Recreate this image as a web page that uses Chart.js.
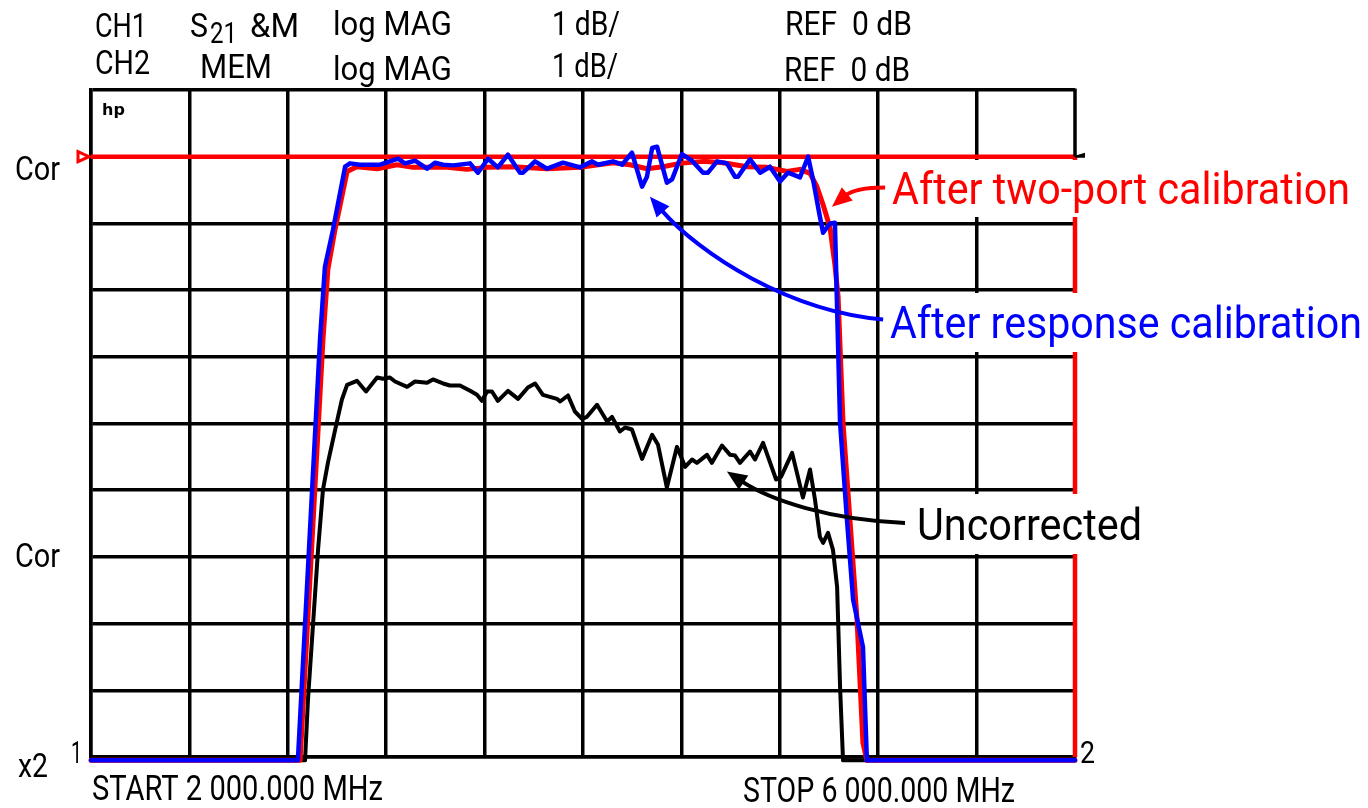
<!DOCTYPE html>
<html>
<head>
<meta charset="utf-8">
<script src="https://cdn.jsdelivr.net/npm/chart.js@4.4.1/dist/chart.umd.min.js"></script>
<style>
html,body{margin:0;padding:0;background:#fff;}
canvas{display:block;}
</style>
</head>
<body>
<canvas id="c" width="1368" height="808"></canvas>
<script>
// ---- data (frequency in MHz, magnitude in dB) ----
const startFreq = 2000;
const stopFreq = 6000;
const freqStep = 400;
const refLevel = 0;
const dbPerDiv = 1;

const refFreq = [2000, 6000];
const refDb = [0, 0];

const respFreq = [2000, 2841, 2931, 2951, 2984, 3033, 3053, 3093, 3134, 3175, 3215, 3248, 3276, 3317, 3366, 3398, 3431, 3472, 3541, 3573, 3614, 3654, 3695, 3744, 3756, 3805, 3854, 3919, 3988, 4037, 4061, 4122, 4159, 4199, 4240, 4260, 4281, 4301, 4341, 4362, 4402, 4443, 4488, 4508, 4545, 4585, 4618, 4630, 4679, 4720, 4760, 4801, 4833, 4854, 4882, 4915, 4935, 4963, 4976, 5004, 5024, 5045, 5073, 5098, 5138, 5154, 6000];
const respDb = [-9.05, -9.05, -2.74, -1.65, -1.09, -0.15, -0.10, -0.12, -0.12, -0.12, -0.07, -0.03, -0.10, -0.06, -0.18, -0.09, -0.12, -0.13, -0.10, -0.24, -0.03, -0.16, 0.03, -0.24, -0.24, -0.07, -0.18, -0.09, -0.16, -0.07, -0.12, -0.07, -0.12, 0.06, -0.45, -0.30, 0.13, 0.15, -0.39, -0.34, 0.04, -0.06, -0.24, -0.24, -0.07, -0.10, -0.30, -0.30, -0.04, -0.24, -0.15, -0.37, -0.24, -0.27, -0.31, 0.00, -0.34, -0.90, -1.14, -1.00, -0.99, -3.99, -5.44, -6.64, -7.35, -9.05, -9.05];

const twoPortFreq = [2000, 2850, 2943, 2963, 2992, 3041, 3081, 3163, 3244, 3309, 3447, 3528, 3610, 3715, 3854, 3988, 4122, 4191, 4260, 4325, 4394, 4488, 4569, 4667, 4748, 4829, 4882, 4923, 4951, 4976, 5004, 5024, 5037, 5057, 5085, 5114, 5138, 5154, 6000];
const twoPortDb = [-9.05, -9.05, -2.74, -1.69, -1.09, -0.22, -0.15, -0.18, -0.12, -0.16, -0.16, -0.19, -0.16, -0.15, -0.18, -0.16, -0.09, -0.12, -0.18, -0.15, -0.10, -0.07, -0.09, -0.15, -0.16, -0.22, -0.19, -0.25, -0.45, -0.72, -1.06, -1.62, -2.10, -3.99, -5.44, -6.94, -8.79, -9.05, -9.05];

const uncorrFreq = [2000, 2870, 2882, 2923, 2943, 2963, 3004, 3020, 3041, 3081, 3118, 3163, 3187, 3215, 3236, 3285, 3317, 3366, 3390, 3431, 3459, 3500, 3541, 3569, 3589, 3610, 3630, 3654, 3695, 3736, 3776, 3805, 3837, 3894, 3907, 3939, 3967, 3996, 4016, 4057, 4098, 4118, 4150, 4171, 4199, 4240, 4281, 4305, 4341, 4382, 4415, 4443, 4463, 4504, 4524, 4565, 4598, 4618, 4638, 4679, 4699, 4732, 4785, 4805, 4850, 4894, 4923, 4943, 4963, 4976, 4996, 5016, 5033, 5045, 5057, 6000];
const uncorrDb = [-9.05, -9.05, -8.14, -5.89, -4.99, -4.59, -3.90, -3.64, -3.42, -3.36, -3.52, -3.31, -3.33, -3.31, -3.37, -3.45, -3.37, -3.39, -3.34, -3.40, -3.43, -3.43, -3.51, -3.57, -3.66, -3.52, -3.52, -3.66, -3.51, -3.63, -3.46, -3.40, -3.57, -3.63, -3.67, -3.58, -3.82, -3.93, -3.90, -3.72, -3.97, -3.90, -4.12, -4.06, -4.09, -4.53, -4.17, -4.32, -4.96, -4.35, -4.65, -4.54, -4.59, -4.47, -4.59, -4.33, -4.47, -4.48, -4.59, -4.42, -4.54, -4.29, -4.84, -4.80, -4.44, -5.11, -4.69, -5.14, -5.70, -5.79, -5.64, -5.89, -6.45, -7.95, -9.05, -9.05];

const seriesNames = ["After response calibration", "After two-port calibration", "Uncorrected"];

// ---- helpers ----
const zip = (xs, ys) => xs.map((x, i) => ({x: x, y: ys[i]}));
const FONT = 'Roboto, "Liberation Sans", sans-serif';

function fitText(ctx, text, x, baseline, width, size, color) {
  ctx.save();
  ctx.font = size + 'px ' + FONT;
  ctx.fillStyle = color;
  ctx.textBaseline = 'alphabetic';
  ctx.textAlign = 'left';
  const m = ctx.measureText(text).width;
  ctx.translate(x, baseline);
  ctx.scale(width / m, 1);
  ctx.fillText(text, 0, 0);
  ctx.restore();
}

function arrow(ctx, pts, color, lw) {
  const end = pts[pts.length - 1];
  const prev = pts[pts.length - 2];
  const ang = Math.atan2(end.y - prev.y, end.x - prev.x);
  const L = 20, W = 8.5;
  const bx = end.x - Math.cos(ang) * (L - 3), by = end.y - Math.sin(ang) * (L - 3);
  ctx.save();
  ctx.strokeStyle = color;
  ctx.fillStyle = color;
  ctx.lineWidth = lw;
  ctx.lineCap = 'butt';
  ctx.beginPath();
  ctx.moveTo(pts[0].x, pts[0].y);
  if (pts.length === 4) ctx.bezierCurveTo(pts[1].x, pts[1].y, pts[2].x, pts[2].y, bx, by);
  else ctx.quadraticCurveTo(pts[1].x, pts[1].y, bx, by);
  ctx.stroke();
  ctx.beginPath();
  ctx.moveTo(end.x, end.y);
  ctx.lineTo(end.x - Math.cos(ang) * L - Math.sin(ang) * W, end.y - Math.sin(ang) * L + Math.cos(ang) * W);
  ctx.lineTo(end.x - Math.cos(ang) * L + Math.sin(ang) * W, end.y - Math.sin(ang) * L - Math.cos(ang) * W);
  ctx.closePath();
  ctx.fill();
  ctx.restore();
}

const overlay = {
  id: 'overlay',
  afterDraw(chart) {
    const ctx = chart.ctx;
    const xs = chart.scales.x, ys = chart.scales.y;
    const P = (f, d) => ({x: xs.getPixelForValue(f), y: ys.getPixelForValue(d)});
    const a = chart.chartArea;
    const yRef = ys.getPixelForValue(refLevel);

    // right border: black above reference, red below
    ctx.save();
    ctx.lineWidth = 3.5;
    ctx.strokeStyle = '#000';
    ctx.beginPath(); ctx.moveTo(a.right, a.top - 1.5); ctx.lineTo(a.right, yRef); ctx.stroke();
    ctx.lineWidth = 4.5;
    ctx.strokeStyle = '#ff0000';
    ctx.beginPath(); ctx.moveTo(a.right, yRef); ctx.lineTo(a.right, a.bottom); ctx.stroke();
    // reference marker (left)
    ctx.lineWidth = 3;
    ctx.beginPath();
    ctx.moveTo(a.left - 13, yRef - 5); ctx.lineTo(a.left - 2, yRef); ctx.lineTo(a.left - 13, yRef + 5); ctx.closePath();
    ctx.stroke();
    // reference marker (right, channel 1)
    ctx.fillStyle = '#000';
    ctx.beginPath();
    ctx.moveTo(a.right, yRef - 1); ctx.lineTo(a.right + 10, yRef - 4); ctx.lineTo(a.right + 10, yRef + 1); ctx.lineTo(a.right, yRef + 1); ctx.closePath();
    ctx.fill();
    ctx.restore();

    // label backgrounds
    ctx.save();
    ctx.fillStyle = '#fff';
    ctx.fillRect(884, 160, 480, 57);
    ctx.fillRect(884, 293, 484, 59);
    ctx.fillRect(900, 494, 250, 60);
    ctx.restore();

    // labels
    fitText(ctx, seriesNames[1], 892, 204, 458, 44, '#ff0000');
    fitText(ctx, seriesNames[0], 890, 338, 472, 44, '#0000ff');
    fitText(ctx, seriesNames[2], 917, 540, 225, 45, '#000000');

    // arrows (anchored in data units)
    arrow(ctx, [P(5228, -0.46), P(5106, -0.46), P(5012, -0.75)], '#ff0000', 4);
    arrow(ctx, [P(5220, -2.44), P(4841, -2.32), P(4476, -1.47), P(4272, -0.60)], '#0000ff', 4);
    arrow(ctx, [P(5309, -5.49), P(5004, -5.45), P(4760, -5.15), P(4585, -4.72)], '#000000', 4);

    // header annotations
    const K = '#000';
    fitText(ctx, 'CH1', 95, 37, 52, 34, K);
    fitText(ctx, 'CH2', 95, 74, 55, 34, K);
    fitText(ctx, 'S', 190, 37, 18, 34, K);
    fitText(ctx, '21', 210, 43, 27, 30, K);
    fitText(ctx, '&M', 250, 37, 49, 34, K);
    fitText(ctx, 'MEM', 200, 78, 72, 34, K);
    fitText(ctx, 'log MAG', 333, 35, 119, 34, K);
    fitText(ctx, 'log MAG', 333, 80, 119, 34, K);
    fitText(ctx, '1 dB/', 552, 35, 68, 34, K);
    fitText(ctx, '1 dB/', 552, 77, 66, 34, K);
    fitText(ctx, 'REF  0 dB', 785, 35, 127, 34, K);
    fitText(ctx, 'REF  0 dB', 784, 81, 126, 34, K);
    fitText(ctx, 'Cor', 15, 180, 45, 33, K);
    fitText(ctx, 'Cor', 15, 567, 45, 33, K);
    fitText(ctx, 'x2', 18, 777, 30, 34, K);
    fitText(ctx, '1', 71, 763, 11, 31, K);
    fitText(ctx, '2', 1080, 763, 15, 31, K);
    fitText(ctx, 'START 2 000.000 MHz', 92, 800, 291, 35, K);
    fitText(ctx, 'STOP 6 000.000 MHz', 743, 802, 272, 35, K);

    // instrument logo
    ctx.save();
    ctx.font = '900 16px "DejaVu Sans", sans-serif';
    ctx.fillStyle = '#000';
    ctx.fillText('hp', 102, 115);
    ctx.restore();
  }
};

const baseDs = {pointRadius: 0, borderJoinStyle: 'round', borderCapStyle: 'round', tension: 0, clip: false, fill: false};

new Chart(document.getElementById('c'), {
  type: 'line',
  data: {
    datasets: [
      Object.assign({}, baseDs, {label: seriesNames[0], data: zip(respFreq, respDb), borderColor: '#0000ff', borderWidth: 4.5}),
      Object.assign({}, baseDs, {label: seriesNames[1], data: zip(twoPortFreq, twoPortDb), borderColor: '#ff0000', borderWidth: 5}),
      Object.assign({}, baseDs, {label: seriesNames[2], data: zip(uncorrFreq, uncorrDb), borderColor: '#000000', borderWidth: 4}),
      Object.assign({}, baseDs, {label: 'REF', data: zip(refFreq, refDb), borderColor: '#ff0000', borderWidth: 4.5, borderCapStyle: 'butt'})
    ]
  },
  options: {
    responsive: false,
    animation: false,
    devicePixelRatio: 1,
    layout: {padding: {left: 91, right: 293, top: 90, bottom: 51}},
    plugins: {legend: {display: false}, tooltip: {enabled: false}},
    scales: {
      x: {
        type: 'linear', min: startFreq, max: stopFreq,
        ticks: {display: false, stepSize: freqStep},
        grid: {color: (c) => (c.tick && c.tick.value === stopFreq) ? 'rgba(0,0,0,0)' : '#000', lineWidth: 3.5, drawTicks: false},
        border: {display: true, color: '#000', width: 3.5},
        afterFit: (s) => { s.height = 0; }
      },
      y: {
        type: 'linear', min: refLevel - 9 * dbPerDiv, max: refLevel + dbPerDiv,
        ticks: {display: false, stepSize: dbPerDiv},
        grid: {color: '#000', lineWidth: 3.5, drawTicks: false},
        border: {display: true, color: '#000', width: 3.5},
        afterFit: (s) => { s.width = 0; }
      }
    }
  },
  plugins: [overlay]
});
</script>
</body>
</html>
